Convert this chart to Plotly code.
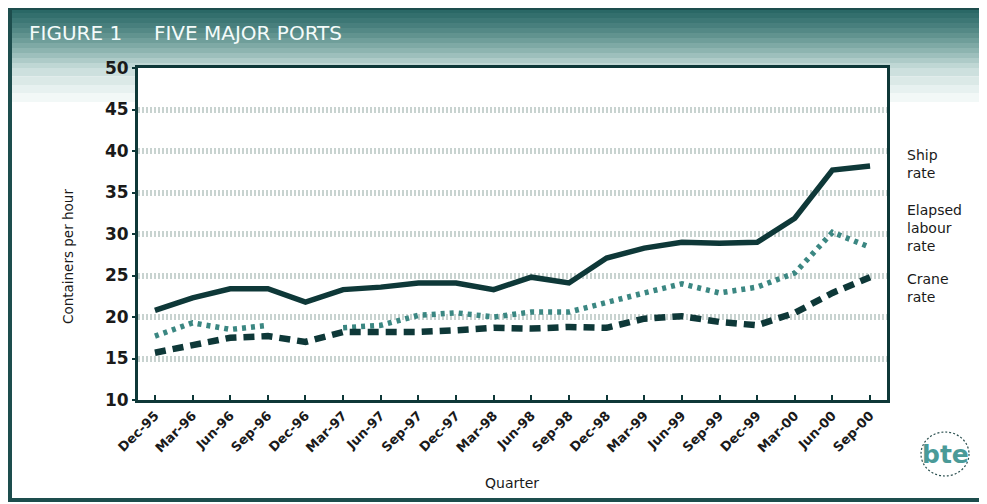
import plotly.graph_objects as go

quarters = ["Dec-95", "Mar-96", "Jun-96", "Sep-96", "Dec-96", "Mar-97", "Jun-97", "Sep-97",
            "Dec-97", "Mar-98", "Jun-98", "Sep-98", "Dec-98", "Mar-99", "Jun-99", "Sep-99",
            "Dec-99", "Mar-00", "Jun-00", "Sep-00"]
ship_rate = [20.8, 22.3, 23.4, 23.4, 21.8, 23.3, 23.6, 24.1, 24.1, 23.3,
             24.8, 24.1, 27.1, 28.3, 29.0, 28.9, 29.0, 31.9, 37.7, 38.2]
elapsed_labour_rate = [17.7, 19.3, 18.5, 19.0, None, 18.7, 19.0, 20.2, 20.5, 20.0,
                       20.6, 20.6, 21.8, 22.9, 24.0, 22.9, 23.6, 25.3, 30.2, 28.4]
crane_rate = [15.7, 16.6, 17.5, 17.7, 17.0, 18.2, 18.2, 18.2, 18.4, 18.7,
              18.6, 18.8, 18.7, 19.8, 20.1, 19.4, 19.0, 20.5, 22.9, 24.8]
y_ticks = [10, 15, 20, 25, 30, 35, 40, 45, 50]

# the page places the figure 8px in from the window corner
W, H = 979, 496
L, R, T, B = 130, 879, 60, 392


def px(x):
    return (x - L) / (R - L)


def py(y):
    return (B - y) / (B - T)


DARK = "#0e3838"
TEAL = "#3b8782"
FONT = "DejaVu Sans"
TXT = "#1a1a1a"

fig = go.Figure()
fig.add_trace(go.Scatter(x=quarters, y=ship_rate, mode="lines", name="Ship rate",
                         line=dict(color=DARK, width=5.5), showlegend=False))
fig.add_trace(go.Scatter(x=quarters, y=elapsed_labour_rate, mode="lines", name="Elapsed labour rate",
                         line=dict(color=TEAL, width=5.5, dash="4px,5px"), connectgaps=False,
                         showlegend=False))
fig.add_trace(go.Scatter(x=quarters, y=crane_rate, mode="lines", name="Crane rate",
                         line=dict(color=DARK, width=6.5, dash="11px,7px"), showlegend=False))

shapes = []
# header gradient (stacked bands) down to plot top
grad = ["#2a6866", "#336f6d", "#3d7775", "#487f7d", "#548986", "#61938f", "#6f9e9a",
        "#7ea9a5", "#8db4b0", "#9dbfbc", "#aecbc8", "#bfd7d4"]
band = T / len(grad)
for i, c in enumerate(grad):
    shapes.append(dict(type="rect", xref="paper", yref="paper", layer="below",
                       x0=px(2), x1=px(977), y0=py((i + 1) * band), y1=py(i * band),
                       fillcolor=c, line=dict(width=0)))
# fade continues at the sides of the plot
fade = ["#cde0de", "#dbe9e7", "#e7f1f0", "#f2f8f7"]
fband = 34 / len(fade)
for i, c in enumerate(fade):
    for xa, xb in ((2, L - 1), (R + 1, 977)):
        shapes.append(dict(type="rect", xref="paper", yref="paper", layer="below",
                           x0=px(xa), x1=px(xb), y0=py(T + (i + 1) * fband), y1=py(T + i * fband),
                           fillcolor=c, line=dict(width=0)))
# outer frame
shapes.append(dict(type="rect", xref="paper", yref="paper",
                   x0=px(2), x1=px(977), y0=py(492), y1=py(0),
                   fillcolor="rgba(0,0,0,0)", line=dict(color="#1d4d4d", width=4)))
# logo circle
shapes.append(dict(type="circle", xref="paper", yref="paper",
                   x0=px(913), x1=px(961), y0=py(468), y1=py(424),
                   line=dict(color="#2a4f4f", width=1.2, dash="2px,2px")))

annotations = [
    dict(text="FIGURE 1     FIVE MAJOR PORTS", xref="paper", yref="paper", x=px(19), y=py(25),
         xanchor="left", yanchor="middle", showarrow=False,
         font=dict(family=FONT, size=20, color="#f4fbfa")),
    dict(text="Ship<br>rate", xref="paper", yref="paper", x=px(897), y=py(156),
         xanchor="left", yanchor="middle", align="left", showarrow=False,
         font=dict(family=FONT, size=14, color=TXT)),
    dict(text="Elapsed<br>labour<br>rate", xref="paper", yref="paper", x=px(897), y=py(220),
         xanchor="left", yanchor="middle", align="left", showarrow=False,
         font=dict(family=FONT, size=14, color=TXT)),
    dict(text="Crane<br>rate", xref="paper", yref="paper", x=px(897), y=py(280),
         xanchor="left", yanchor="middle", align="left", showarrow=False,
         font=dict(family=FONT, size=14, color=TXT)),
    dict(text="<b>bte</b>", xref="paper", yref="paper", x=px(937), y=py(446),
         xanchor="center", yanchor="middle", showarrow=False,
         font=dict(family=FONT, size=25, color="#4a9a98")),
    dict(text="Containers per hour", xref="paper", yref="paper", x=px(60), y=py(249),
         xanchor="center", yanchor="middle", textangle=-90, showarrow=False,
         font=dict(family=FONT, size=13.5, color=TXT)),
    dict(text="Quarter", xref="paper", yref="paper", x=px(504), y=py(475),
         xanchor="center", yanchor="middle", showarrow=False,
         font=dict(family=FONT, size=14, color=TXT)),
]

fig.update_layout(
    width=W, height=H,
    margin=dict(l=L, r=W - R, t=T, b=H - B, autoexpand=False),
    paper_bgcolor="white",
    plot_bgcolor="white",
    shapes=shapes,
    annotations=annotations,
    font=dict(family=FONT, color=TXT),
    xaxis=dict(
        type="category", range=[-0.45, 19.45],
        tickmode="array", tickvals=quarters, ticktext=quarters,
        tickangle=-45, tickfont=dict(family=FONT, size=13, color=TXT, weight="bold"),
        ticks="inside", ticklen=5, tickwidth=2, tickcolor=DARK,
        showline=True, linecolor=DARK, linewidth=3, mirror=True,
        showgrid=False, zeroline=False, automargin=False,
    ),
    yaxis=dict(
        range=[10, 50], tickmode="array", tickvals=y_ticks,
        tickfont=dict(family=FONT, size=17, color=TXT, weight="bold"),
        ticks="outside", ticklen=3, tickwidth=2, tickcolor=DARK,
        showline=True, linecolor=DARK, linewidth=3, mirror=True,
        showgrid=True, gridcolor="#c8d3d0", gridwidth=6, griddash="2px,2px",
        zeroline=False, automargin=False,
    ),
)

fig.write_html("out.html")
